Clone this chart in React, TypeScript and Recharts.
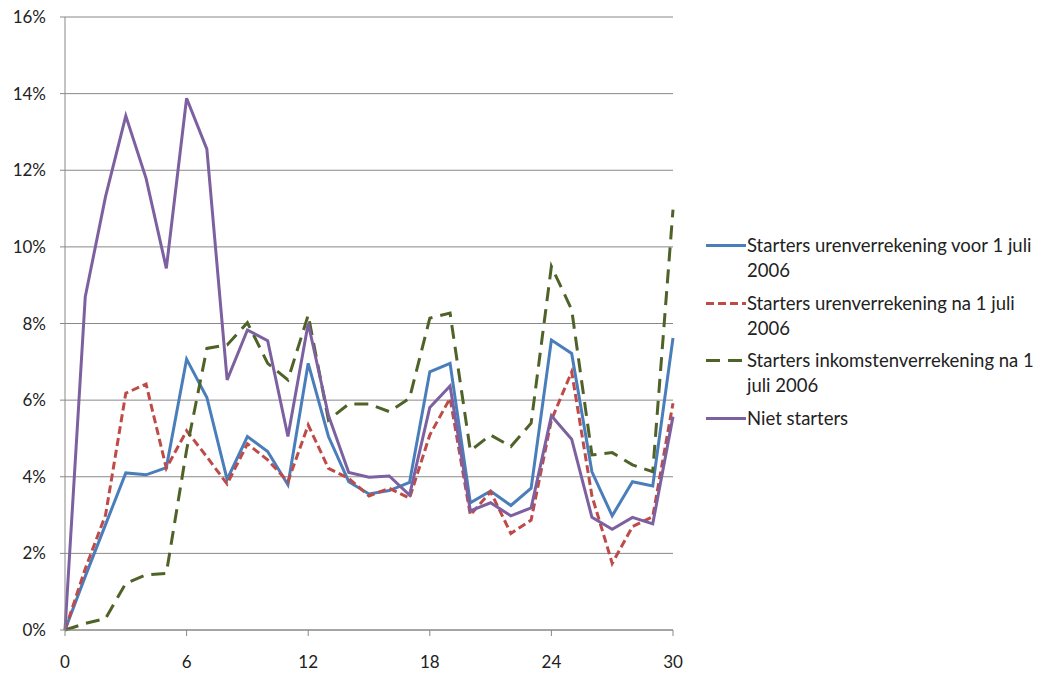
import { LineChart, Line, XAxis, YAxis, CartesianGrid } from 'recharts';

// maanden 0..30
const months = Array.from({ length: 31 }, (_, i) => i);

const urenVoor = [
  0, 1.4, 2.75, 4.1, 4.05, 4.24, 7.07, 6.07, 3.93, 5.05, 4.66, 3.79, 6.96, 5.05, 3.87, 3.55,
  3.64, 3.85, 6.74, 6.96, 3.32, 3.63, 3.25, 3.7, 7.57, 7.22, 4.13, 2.98, 3.87, 3.76, 7.62,
];
const urenNa = [
  0, 1.6, 3.0, 6.18, 6.42, 4.22, 5.2, 4.52, 3.81, 4.86, 4.44, 3.87, 5.35, 4.22, 3.96, 3.5,
  3.7, 3.44, 5.09, 6.05, 3.0, 3.61, 2.52, 2.87, 5.48, 6.74, 3.5, 1.74, 2.7, 2.96, 5.92,
];
const inkomstenNa = [
  0, 0.17, 0.3, 1.22, 1.44, 1.48, 4.7, 7.35, 7.44, 8.02, 6.96, 6.53, 8.22, 5.48, 5.9, 5.9,
  5.7, 6.05, 8.14, 8.27, 4.68, 5.09, 4.79, 5.4, 9.49, 8.36, 4.57, 4.63, 4.31, 4.13, 10.97,
];
const nietStarters = [
  0, 8.7, 11.31, 13.42, 11.79, 9.44, 13.88, 12.55, 6.53, 7.83, 7.55, 5.05, 8.0, 5.6, 4.11, 3.99,
  4.02, 3.52, 5.81, 6.37, 3.11, 3.32, 2.98, 3.19, 5.59, 4.98, 2.94, 2.63, 2.94, 2.77, 5.57,
];

const xTicks = [0, 6, 12, 18, 24, 30];
const yTicks = [0, 2, 4, 6, 8, 10, 12, 14, 16];

// legend text, broken where the original wraps
const series = [
  { key: 'urenVoor', lines: ['Starters urenverrekening voor 1 juli', '2006'], color: '#4A7EBB', dash: undefined },
  { key: 'urenNa', lines: ['Starters urenverrekening na 1 juli', '2006'], color: '#BE4B48', dash: '8 4' },
  { key: 'inkomstenNa', lines: ['Starters inkomstenverrekening na 1', 'juli 2006'], color: '#4F6228', dash: '14 8' },
  { key: 'nietStarters', lines: ['Niet starters'], color: '#7D60A0', dash: undefined },
];

const data = months.map((m, i) => ({
  m,
  urenVoor: urenVoor[i],
  urenNa: urenNa[i],
  inkomstenNa: inkomstenNa[i],
  nietStarters: nietStarters[i],
}));

const font = 'Lato, "Open Sans", sans-serif';

function LegendBox() {
  return (
    <div
      style={{
        position: 'absolute',
        left: 705,
        top: 233,
        fontFamily: font,
        fontSize: 18.5,
        color: '#222',
        lineHeight: '25px',
      }}
    >
      {series.map((s) => (
        <div key={s.key} style={{ display: 'flex', alignItems: 'flex-start', marginBottom: 7.5 }}>
          <svg width={42} height={25} style={{ flex: 'none' }}>
            <line x1={1} x2={41} y1={12.5} y2={12.5} stroke={s.color} strokeWidth={3} strokeDasharray={s.dash} />
          </svg>
          <span style={{ whiteSpace: 'nowrap' }}>
            {s.lines.map((l, i) => (
              <div key={i}>{l}</div>
            ))}
          </span>
        </div>
      ))}
    </div>
  );
}

export default function App() {
  return (
    <div style={{ position: 'absolute', left: 0, top: 0, width: 1043, height: 673 }}>
      <LineChart width={1043} height={673} data={data} margin={{ top: 17, right: 370, bottom: 0, left: 0 }}>
        <CartesianGrid vertical={false} stroke="#888" strokeWidth={1} />
        <XAxis
          dataKey="m"
          type="number"
          domain={[0, 30]}
          ticks={xTicks}
          height={43}
          stroke="#888"
          tickSize={6}
          tickMargin={20}
          tick={{ fill: '#222', fontSize: 17, fontFamily: font }}
        />
        <YAxis
          type="number"
          domain={[0, 16]}
          ticks={yTicks}
          width={65}
          stroke="#888"
          tickSize={5}
          tickMargin={14}
          tickFormatter={(v: number) => `${v}%`}
          tick={{ fill: '#222', fontSize: 17, fontFamily: font }}
        />
        {series.map((s) => (
          <Line
            key={s.key}
            dataKey={s.key}
            name={s.lines.join(' ')}
            stroke={s.color}
            strokeWidth={3}
            strokeDasharray={s.dash}
            dot={false}
            activeDot={false}
            isAnimationActive={false}
          />
        ))}
      </LineChart>
      <LegendBox />
    </div>
  );
}
